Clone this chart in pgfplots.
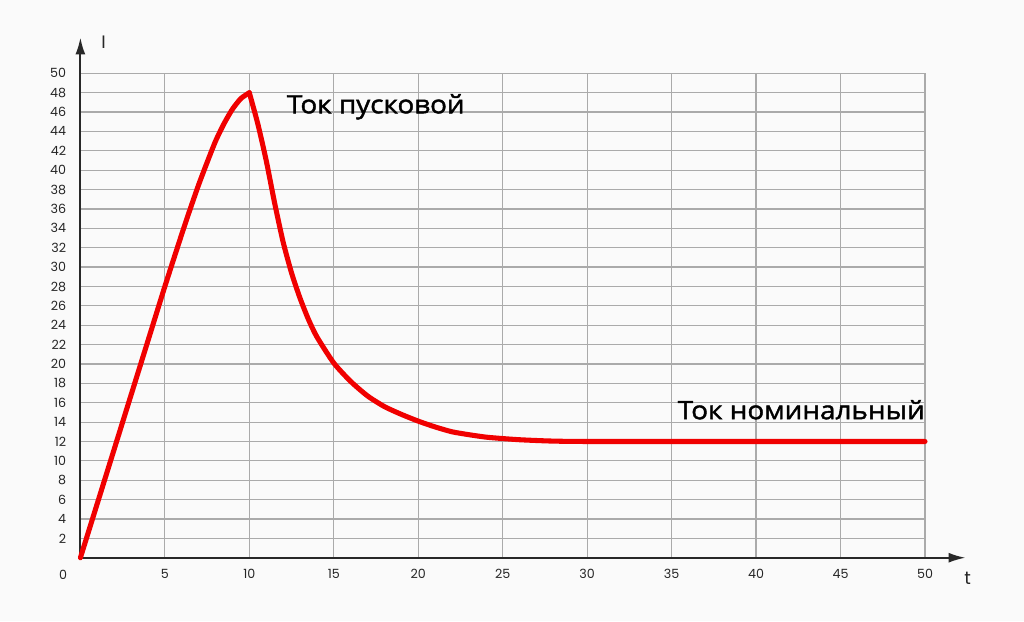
\documentclass[border=0pt]{standalone}
\usepackage{fontspec}
\setmainfont{Poppins}
\newfontfamily\cyr[FakeBold=1.6, FakeStretch=1.1]{Open Sans}
\usepackage{pgfplots}
\pgfplotsset{compat=1.18}
\usetikzlibrary{arrows.meta}
\definecolor{bg}{RGB}{250,250,250}
\definecolor{gridc}{RGB}{170,170,170}
\definecolor{axc}{RGB}{40,40,40}
\definecolor{curve}{RGB}{240,0,0}
\begin{document}
\begin{tikzpicture}
\path[fill=bg, use as bounding box] (-60.3pt,-47.5pt) rectangle (707.7pt,418.3pt);
\begin{axis}[
  at={(0pt,0pt)}, anchor=south west,
  scale only axis, width=633.45pt, height=363.3pt,
  xmin=0, xmax=50, ymin=0, ymax=50,
  clip=false,
  axis line style={draw=none},
  xtick={5,10,...,50}, ytick={2,4,...,50},
  major tick length=0pt,
  grid=major,
  major grid style={draw=gridc, line width=0.9pt},
  /pgf/number format/assume math mode=true,
  tick label style={font=\fontsize{9.5}{11}\selectfont, text=black!85, inner sep=0pt},
  yticklabel style={xshift=-10.5pt},
  xticklabel style={yshift=-8.5pt},
]
\draw[axc, line width=1.5pt, -{Latex[length=12.75pt,width=7.5pt]}] (axis cs:0,0) -- (axis cs:52.4,0);
\draw[axc, line width=1.5pt, -{Latex[length=12.75pt,width=7.5pt]}] (axis cs:0,0) -- (axis cs:0,53.7);
\addplot[curve, line width=3.8pt, smooth, tension=0.4, line cap=round] coordinates {
 (0,0) (1,5.6) (2,11.2) (3,16.8) (4,22.4) (5,28) (6,33.4) (6.5,36.0) (7,38.5)
 (7.5,40.8) (8,43.0) (8.5,44.8) (9,46.3) (9.5,47.4) (10,48)
};
\addplot[curve, line width=3.8pt, smooth, tension=0.4, line cap=round] coordinates {
 (10,48) (10.5,44.8) (11,41.0) (11.5,36.6) (12,32.6) (12.5,29.4) (13,26.8) (13.5,24.6)
 (14,22.8) (15,20.1) (16,18.2) (17,16.7) (18,15.6) (19,14.8) (20,14.1) (21,13.5)
 (22,13.0) (23,12.7) (24,12.45) (25,12.3) (26,12.18) (27,12.1) (28,12.04) (30,12) (40,12) (50,12)
};
\node[font=\fontsize{9.5}{11}\selectfont, text=black!85, inner sep=0pt] at (axis cs:-1.03,-1.79) {0};
\node[font=\fontsize{13.5}{15}\selectfont, text=black!85, inner sep=0pt] at (axis cs:1.37,53.2) {I};
\node[font=\fontsize{13.5}{15}\selectfont, text=black!85, inner sep=0pt] at (axis cs:52.53,-2.1) {t};
\node[font=\cyr\fontsize{19}{22}\selectfont, anchor=base west, inner sep=0pt] at (axis cs:12.21,45.87) {Ток пусковой};
\node[font=\cyr\fontsize{19}{22}\selectfont, anchor=base east, inner sep=0pt] at (axis cs:50,14.3) {Ток номинальный};
\end{axis}
\end{tikzpicture}
\end{document}
